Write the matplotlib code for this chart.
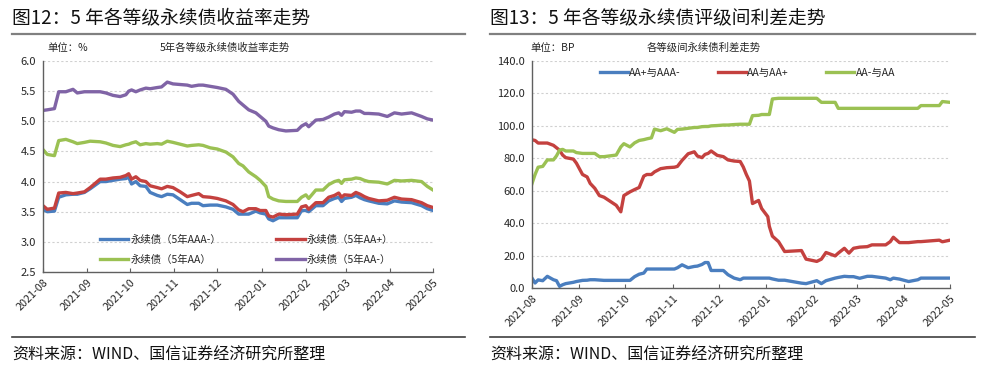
import matplotlib
matplotlib.use('Agg')
import matplotlib.pyplot as plt
import matplotlib.dates as mdates
from matplotlib.lines import Line2D
from matplotlib.ticker import FormatStrFormatter
import pandas as pd

plt.rcParams['font.family'] = ['Noto Sans CJK SC', 'DejaVu Sans']

START = pd.Timestamp('2021-08-01')

# ---------------- Left chart data (days after 2021-08-01) ----------------
days_left = [0, 3, 8, 11, 16, 21, 24, 29, 33, 40,
             44, 49, 54, 58, 60, 62, 65, 68, 72, 75,
             80, 83, 87, 91, 96, 101, 104, 109, 112, 117,
             122, 128, 133, 137, 140, 144, 149, 152, 156, 158,
             161, 165, 170, 178, 181, 184, 186, 191, 196, 200,
             204, 207, 209, 211, 216, 219, 222, 225, 228, 235,
             241, 246, 251, 258, 265, 269, 273]

yield_aaa_minus = [3.54, 3.50, 3.51, 3.74, 3.78, 3.79, 3.79, 3.82, 3.88, 4.00,
                   4.00, 4.02, 4.04, 4.05, 4.07, 3.96, 4.00, 3.93, 3.92, 3.82,
                   3.77, 3.75, 3.79, 3.78, 3.70, 3.62, 3.64, 3.64, 3.60, 3.61,
                   3.61, 3.58, 3.54, 3.46, 3.46, 3.46, 3.51, 3.48, 3.46, 3.38,
                   3.35, 3.40, 3.40, 3.40, 3.52, 3.52, 3.50, 3.60, 3.60, 3.68,
                   3.72, 3.74, 3.67, 3.72, 3.74, 3.77, 3.73, 3.70, 3.68, 3.64,
                   3.63, 3.68, 3.66, 3.65, 3.60, 3.55, 3.52]

yield_aa_plus = [3.60, 3.54, 3.56, 3.81, 3.82, 3.80, 3.81, 3.83, 3.90, 4.04,
                 4.04, 4.06, 4.07, 4.10, 4.13, 4.04, 4.08, 4.02, 4.00, 3.93,
                 3.90, 3.88, 3.92, 3.90, 3.83, 3.75, 3.77, 3.80, 3.75, 3.74,
                 3.72, 3.68, 3.62, 3.53, 3.50, 3.55, 3.55, 3.52, 3.52, 3.43,
                 3.41, 3.46, 3.45, 3.46, 3.58, 3.60, 3.54, 3.65, 3.65, 3.74,
                 3.77, 3.81, 3.74, 3.78, 3.77, 3.82, 3.79, 3.75, 3.72, 3.68,
                 3.69, 3.74, 3.71, 3.70, 3.65, 3.60, 3.57]

yield_aa = [4.53, 4.45, 4.43, 4.68, 4.70, 4.66, 4.63, 4.65, 4.67, 4.66,
            4.64, 4.60, 4.58, 4.61, 4.62, 4.64, 4.66, 4.61, 4.63, 4.62,
            4.63, 4.62, 4.67, 4.65, 4.62, 4.59, 4.60, 4.61, 4.60, 4.56,
            4.54, 4.49, 4.41, 4.30, 4.26, 4.16, 4.08, 4.02, 3.92, 3.75,
            3.71, 3.68, 3.67, 3.67, 3.74, 3.78, 3.72, 3.86, 3.86, 3.95,
            4.00, 4.02, 3.97, 4.03, 4.04, 4.06, 4.05, 4.02, 4.00, 3.99,
            3.96, 4.02, 4.01, 4.02, 4.00, 3.92, 3.86]

yield_aa_minus = [5.18, 5.19, 5.21, 5.49, 5.49, 5.53, 5.47, 5.49, 5.49, 5.49,
                  5.47, 5.43, 5.41, 5.44, 5.50, 5.52, 5.49, 5.52, 5.55, 5.54,
                  5.56, 5.57, 5.65, 5.62, 5.61, 5.60, 5.58, 5.60, 5.60, 5.58,
                  5.56, 5.53, 5.45, 5.33, 5.27, 5.19, 5.14, 5.08, 5.00, 4.92,
                  4.89, 4.86, 4.84, 4.85, 4.92, 4.96, 4.91, 5.02, 5.03, 5.07,
                  5.12, 5.14, 5.10, 5.16, 5.15, 5.17, 5.17, 5.13, 5.13, 5.12,
                  5.08, 5.14, 5.12, 5.14, 5.08, 5.04, 5.02]

left_labels = ['永续债（5年AAA-）', '永续债（5年AA）', '永续债（5年AA+）', '永续债（5年AA-）']

# ---------------- Right chart data (days after 2021-08-01) ----------------
days_right = [0, 2, 4, 7, 10, 14, 16, 18, 20, 22,
              27, 29, 33, 36, 38, 41, 44, 47, 51, 55,
              58, 60, 64, 67, 70, 73, 75, 78, 80, 84,
              88, 93, 95, 98, 102, 106, 108, 111, 113, 115,
              117, 121, 125, 128, 132, 136, 138, 140, 142, 144,
              148, 150, 154, 155, 157, 161, 165, 176, 179, 186,
              189, 192, 198, 200, 204, 207, 210, 214, 219, 222,
              231, 234, 236, 240, 246, 252, 254, 266, 268, 273]

spread_aaplus_aaaminus = [6.1, 3.1, 5.0, 4.5, 7.2, 5.1, 4.5, 1.0, 2.0, 2.7,
                          3.5, 4.0, 4.7, 4.8, 5.1, 5.1, 4.9, 4.7, 4.7, 4.7,
                          4.7, 4.7, 4.7, 7.0, 8.5, 9.2, 11.7, 11.7, 11.7, 11.7,
                          11.7, 11.7, 12.5, 14.3, 12.5, 13.3, 13.5, 14.5, 15.7, 15.7,
                          10.8, 10.8, 10.8, 8.2, 6.1, 5.1, 6.1, 6.1, 6.1, 6.1,
                          6.1, 6.1, 6.1, 6.1, 5.6, 4.8, 4.8, 3.0, 2.7, 4.5,
                          2.7, 4.5, 6.1, 6.5, 7.2, 7.0, 7.0, 6.0, 7.2, 7.2,
                          6.1, 5.1, 6.1, 5.5, 4.0, 5.1, 6.1, 6.1, 6.1, 6.1]

spread_aa_aaplus = [91.4, 91.0, 89.4, 89.4, 89.4, 88.0, 86.5, 85.0, 82.0, 80.4,
                    79.5, 77.0, 70.0, 68.5, 64.5, 61.5, 57.0, 56.0, 53.5, 51.0,
                    47.0, 57.0, 59.3, 60.7, 62.0, 69.0, 70.0, 70.0, 71.6, 73.6,
                    74.2, 74.5, 75.0, 78.7, 82.8, 84.0, 81.4, 80.4, 82.4, 83.0,
                    84.5, 81.8, 81.0, 79.0, 78.3, 78.0, 74.6, 70.0, 66.0, 52.1,
                    54.0, 49.0, 44.0, 38.0, 32.0, 28.6, 22.5, 23.1, 17.8, 16.4,
                    17.8, 21.9, 19.8, 21.5, 24.5, 21.5, 24.5, 25.2, 25.5, 26.6,
                    26.6, 28.6, 31.3, 28.0, 28.0, 28.6, 28.6, 29.5, 28.5, 29.5]

spread_aaminus_aa = [64.4, 70.0, 74.5, 75.0, 79.0, 79.0, 81.5, 85.0, 85.5, 84.5,
                     84.5, 83.5, 83.0, 83.0, 83.0, 83.0, 81.0, 81.0, 81.5, 82.0,
                     87.0, 89.0, 87.0, 89.5, 91.0, 91.5, 92.0, 92.6, 98.0, 97.0,
                     98.2, 96.0, 97.8, 98.0, 98.5, 99.0, 99.0, 99.5, 99.6, 99.6,
                     100.0, 100.2, 100.5, 100.5, 100.8, 101.0, 101.0, 101.0, 101.0, 106.3,
                     106.5, 107.0, 107.0, 107.0, 116.6, 117.0, 117.0, 117.0, 117.0, 117.0,
                     114.5, 114.5, 114.5, 110.8, 110.8, 110.8, 110.8, 110.8, 110.8, 110.8,
                     110.8, 110.8, 110.8, 110.8, 110.8, 110.8, 112.5, 112.5, 115.0, 114.5]

right_labels = ['AA+与AAA-', 'AA与AA+', 'AA-与AA']

BLUE = '#4a7ebf'
RED = '#c4413f'
GREEN = '#9bc153'
PURPLE = '#8064a6'
GRID = '#d0d0d0'
SPINE = '#606060'
TXT = '#262626'


def to_dates(days):
    return START + pd.to_timedelta(days, unit='D')


W, H = 988, 376
fig = plt.figure(figsize=(W / 100, H / 100), dpi=100)


def px_axes(x0, y0, x1, y1):
    return fig.add_axes([x0 / W, 1 - y1 / H, (x1 - x0) / W, (y1 - y0) / H])


def fx(x):
    return x / W


def fy(y):
    return 1 - y / H


def style_axes(ax):
    for s in ['top', 'right']:
        ax.spines[s].set_visible(False)
    for s in ['left', 'bottom']:
        ax.spines[s].set_color(SPINE)
        ax.spines[s].set_linewidth(1.0)
    ax.yaxis.grid(True, color=GRID, linestyle=(0, (2, 2)), linewidth=0.8)
    ax.set_axisbelow(True)
    ax.xaxis.set_major_locator(mdates.MonthLocator())
    ax.xaxis.set_major_formatter(mdates.DateFormatter('%Y-%m'))
    ax.tick_params(axis='x', direction='in', length=3, width=0.8, color=SPINE,
                   labelsize=7.8, labelcolor=TXT, pad=4)
    ax.tick_params(axis='y', length=0, labelsize=8, labelcolor=TXT, pad=5)
    for lab in ax.get_xticklabels():
        lab.set_rotation(45)
        lab.set_ha('right')
        lab.set_rotation_mode('anchor')


LW = 2.4

# ---------------- Left chart ----------------
axL = px_axes(43, 61, 433, 272)
dl = to_dates(days_left)
axL.plot(dl, yield_aaa_minus, color=BLUE, lw=LW, label=left_labels[0])
axL.plot(dl, yield_aa, color=GREEN, lw=LW, label=left_labels[1])
axL.plot(dl, yield_aa_plus, color=RED, lw=LW, label=left_labels[2])
axL.plot(dl, yield_aa_minus, color=PURPLE, lw=LW, label=left_labels[3])
axL.set_ylim(2.5, 6.0)
axL.set_yticks([2.5, 3.0, 3.5, 4.0, 4.5, 5.0, 5.5, 6.0])
axL.yaxis.set_major_formatter(FormatStrFormatter('%.1f'))
axL.set_xlim(START, START + pd.Timedelta(days=273))
style_axes(axL)
legL = axL.legend(ncol=2, loc='lower left', bbox_to_anchor=(0.147, 0.035),
                  frameon=False, fontsize=7.5, handlelength=2.7, handletextpad=0.2,
                  columnspacing=5.3, labelspacing=0.9, borderpad=0, borderaxespad=0)
for t in legL.get_texts():
    t.set_color(TXT)

# ---------------- Right chart ----------------
axR = px_axes(532, 61, 950, 288)
dr = to_dates(days_right)
axR.plot(dr, spread_aaplus_aaaminus, color=BLUE, lw=LW, label=right_labels[0])
axR.plot(dr, spread_aa_aaplus, color=RED, lw=LW, label=right_labels[1])
axR.plot(dr, spread_aaminus_aa, color=GREEN, lw=LW, label=right_labels[2])
axR.set_ylim(0, 140)
axR.set_yticks(range(0, 141, 20))
axR.yaxis.set_major_formatter(FormatStrFormatter('%.1f'))
axR.set_xlim(START, START + pd.Timedelta(days=273))
style_axes(axR)
legR = axR.legend(ncol=3, loc='center left', bbox_to_anchor=(0.162, 0.947),
                  frameon=False, fontsize=7.5, handlelength=2.7, handletextpad=0.1,
                  columnspacing=3.6, borderpad=0, borderaxespad=0)
for t in legR.get_texts():
    t.set_color(TXT)

# ---------------- Titles, subtitles, sources ----------------
fig.text(fx(12), fy(18), '图12：5 年各等级永续债收益率走势', fontsize=13.5,
         ha='left', va='center', color='#111111')
fig.text(fx(490), fy(18), '图13：5 年各等级永续债评级间利差走势', fontsize=13.5,
         ha='left', va='center', color='#111111')
fig.add_artist(Line2D([fx(12), fx(465)], [fy(34), fy(34)], color='#808080', lw=1.6))
fig.add_artist(Line2D([fx(490), fx(975)], [fy(34), fy(34)], color='#808080', lw=1.6))

fig.text(fx(47), fy(48), '单位：%', fontsize=7.5, ha='left', va='center', color=TXT)
fig.text(fx(160), fy(48), '5年各等级永续债收益率走势', fontsize=7.5, ha='left', va='center', color=TXT)
fig.text(fx(530), fy(48), '单位：BP', fontsize=7.5, ha='left', va='center', color=TXT)
fig.text(fx(647), fy(48), '各等级间永续债利差走势', fontsize=7.5, ha='left', va='center', color=TXT)

fig.add_artist(Line2D([fx(12), fx(465)], [fy(337), fy(337)], color='#404040', lw=1.2))
fig.add_artist(Line2D([fx(490), fx(975)], [fy(337), fy(337)], color='#404040', lw=1.2))
fig.text(fx(12), fy(355), '资料来源：WIND、国信证券经济研究所整理', fontsize=11.5,
         ha='left', va='center', color='#111111')
fig.text(fx(490), fy(355), '资料来源：WIND、国信证券经济研究所整理', fontsize=11.5,
         ha='left', va='center', color='#111111')

fig.savefig('out.png', dpi=100)
